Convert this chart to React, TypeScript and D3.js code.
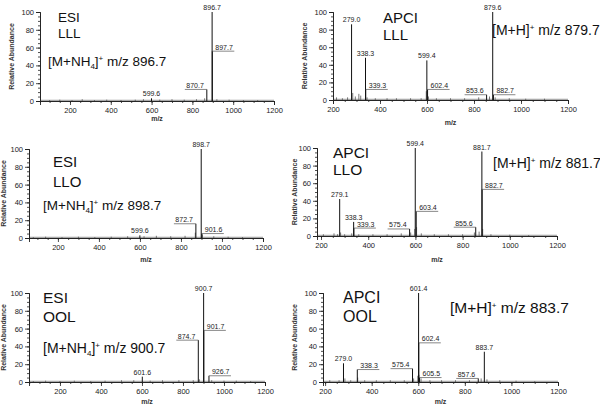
import React, { useEffect, useRef } from 'react';
import * as d3 from 'd3';

const W = 600;
const H = 409;

// labelled peaks: [m/z, relative abundance]
const esiLLL = [[896.7, 100], [897.7, 56], [870.7, 13], [599.6, 3]];
const apciLLL = [[279.0, 86], [338.3, 48], [339.3, 12], [599.4, 45], [602.4, 12], [853.6, 6], [879.6, 100], [882.7, 6]];
const esiLLO = [[898.7, 100], [872.7, 16], [901.6, 5], [599.6, 3]];
const apciLLO = [[279.1, 42], [338.3, 16], [339.3, 9], [575.4, 8], [599.4, 100], [603.4, 28], [855.6, 10], [881.7, 96], [882.7, 53]];
const esiOOL = [[900.7, 100], [874.7, 47], [901.7, 58], [926.7, 7], [601.6, 6]];
const apciOOL = [[601.4, 100], [602.4, 44], [279.0, 21], [338.3, 14], [575.4, 15], [605.5, 5], [857.6, 4], [883.7, 34]];

// small unlabelled peaks along the baseline
const esiLLLMinor = [[100, 1], [150, 1.5], [210, 1], [260, 2], [320, 1], [380, 1.5], [450, 1], [520, 1.5], [560, 2], [640, 1.5], [700, 2], [760, 1.5], [820, 2], [860, 3], [920, 2], [980, 1.5], [1050, 1], [1120, 1]];
const apciLLLMinor = [[215, 3], [240, 2], [262, 3], [284, 8], [295, 4], [310, 7], [318, 5], [345, 3], [380, 2], [430, 2], [470, 2], [530, 2], [575, 2], [597, 10], [606, 4], [640, 2], [700, 2], [760, 2], [820, 3], [866, 4], [890, 3], [950, 2], [1020, 1.5], [1100, 1.5]];
const esiLLOMinor = [[80, 1], [140, 1.5], [220, 1], [300, 1.5], [380, 1], [460, 1.5], [540, 2], [620, 2], [680, 2.5], [750, 2], [820, 2.5], [870, 6], [905, 4], [960, 2], [1030, 1.5], [1100, 1]];
const apciLLOMinor = [[210, 2], [255, 3], [270, 2], [283, 4], [300, 2], [330, 3], [360, 2], [420, 2], [480, 2], [540, 3], [580, 4], [597, 8], [605, 10], [625, 3], [680, 2], [740, 2], [800, 2], [850, 4], [870, 5], [885, 8], [920, 2], [1000, 1.5], [1080, 1]];
const esiOOLMinor = [[70, 1], [130, 1.5], [200, 1], [270, 1.5], [350, 1], [420, 1.5], [500, 2], [560, 2], [640, 1.5], [700, 2], [780, 2], [850, 2], [880, 3], [940, 2], [1000, 1.5], [1060, 1.5], [1130, 1]];
const apciOOLMinor = [[220, 2], [260, 2], [285, 4], [310, 2], [340, 5], [370, 2], [420, 2], [480, 2], [540, 2], [580, 4], [598, 7], [603, 8], [612, 4], [650, 2], [700, 2], [760, 2], [820, 2], [870, 4], [895, 3], [950, 2], [1020, 1.5], [1100, 1]];

const xTicks = [200, 400, 600, 800, 1000, 1200];
const yTicks = [0, 20, 40, 60, 80, 100];

// panel layout (pixel positions) and label placement: c = above, r / l = leader to the side
const panels = [
  { peaks: esiLLL, minor: esiLLLMinor, sides: 'crlc', method: 'ESI', lipid: 'LLL', adduct: 'NH4', ionMz: '896.7',
    dom: [53, 1200], rx: [40, 274], ry: [101, 12], yLabX: 14, mY: 121,
    meth: [58, 22, 38], ion: [48, 66], big: 13.5, ionSize: 13.5 },
  { peaks: apciLLL, minor: apciLLLMinor, sides: 'ccrcrlcr', method: 'APCI', lipid: 'LLL', adduct: 'H', ionMz: '879.7',
    dom: [200, 1200], rx: [333, 568], ry: [100, 12], yLabX: 307, mY: 125,
    meth: [383, 23, 40], ion: [492, 35], big: 15, ionSize: 14 },
  { peaks: esiLLO, minor: esiLLOMinor, sides: 'clrc', method: 'ESI', lipid: 'LLO', adduct: 'NH4', ionMz: '898.7',
    dom: [59, 1200], rx: [29, 263], ry: [238, 149], yLabX: 6, mY: 262,
    meth: [53, 167, 187], ion: [43, 210], big: 15, ionSize: 13.5 },
  { peaks: apciLLO, minor: apciLLOMinor, sides: 'ccrlcrlcr', method: 'APCI', lipid: 'LLO', adduct: 'H', ionMz: '881.7',
    dom: [183, 1200], rx: [317, 557], ry: [236, 148], yLabX: 297, mY: 262,
    meth: [333, 158, 175], ion: [493, 168], big: 15.5, ionSize: 14 },
  { peaks: esiOOL, minor: esiOOLMinor, sides: 'clrrc', method: 'ESI', lipid: 'OOL', adduct: 'NH4', ionMz: '900.7',
    dom: [49, 1200], rx: [29, 265], ry: [382, 293], yLabX: 6, mY: 404,
    meth: [43, 303, 322], ion: [43, 353], big: 15.5, ionSize: 14 },
  { peaks: apciOOL, minor: apciOOLMinor, sides: 'crcrlrlc', method: 'APCI', lipid: 'OOL', adduct: 'H', ionMz: '883.7',
    dom: [191, 1200], rx: [323, 558], ry: [382, 293], yLabX: 297, mY: 404,
    meth: [343, 303, 322], ion: [450, 313], big: 16, ionSize: 15.5 },
];

const FONT = 'Arial, "Liberation Sans", sans-serif';

export default function App() {
  const svgRef = useRef(null);

  useEffect(() => {
    const svg = d3.select(svgRef.current);
    svg.selectAll('*').remove();
    svg.append('rect').attr('width', W).attr('height', H).attr('fill', '#fff');

    panels.forEach((p) => {
      const x = d3.scaleLinear().domain(p.dom).range(p.rx);
      const y = d3.scaleLinear().domain([0, 100]).range(p.ry);
      const g = svg.append('g');

      // baseline
      g.append('line')
        .attr('x1', p.rx[0]).attr('x2', p.rx[1])
        .attr('y1', y(0.8)).attr('y2', y(0.8))
        .attr('stroke', '#777').attr('stroke-width', 0.8);

      // minor peaks
      g.selectAll('.mn').data(p.minor).join('line')
        .attr('x1', (d) => x(d[0])).attr('x2', (d) => x(d[0]))
        .attr('y1', y(0)).attr('y2', (d) => y(d[1]))
        .attr('stroke', '#555').attr('stroke-width', 0.8);

      // labelled peaks
      g.selectAll('.pk').data(p.peaks).join('line')
        .attr('x1', (d) => x(d[0])).attr('x2', (d) => x(d[0]))
        .attr('y1', y(0)).attr('y2', (d) => y(d[1]))
        .attr('stroke', '#111').attr('stroke-width', 1);

      // peak labels
      p.peaks.forEach((d, i) => {
        const side = p.sides[i];
        const px = x(d[0]);
        const py = y(d[1]);
        const txt = d[0].toFixed(1);
        const tw = 19;
        if (side === 'c') {
          g.append('text').attr('x', px).attr('y', py - 2)
            .attr('text-anchor', 'middle').text(txt);
        } else if (side === 'r') {
          g.append('line').attr('x1', px).attr('x2', px + 3 + tw)
            .attr('y1', py).attr('y2', py).attr('stroke', '#555').attr('stroke-width', 0.7);
          g.append('text').attr('x', px + 3).attr('y', py - 1.5).text(txt);
        } else {
          g.append('line').attr('x1', px - 3 - tw).attr('x2', px)
            .attr('y1', py).attr('y2', py).attr('stroke', '#555').attr('stroke-width', 0.7);
          g.append('text').attr('x', px - 3).attr('y', py - 1.5)
            .attr('text-anchor', 'end').text(txt);
        }
      });
      g.selectAll('text').attr('font-family', FONT).attr('font-size', 7).attr('fill', '#222');

      // axes
      const xMinor = d3.range(Math.ceil(p.dom[0] / 50) * 50, 1201, 50);
      g.append('g').attr('transform', `translate(0,${p.ry[0]})`)
        .call(d3.axisBottom(x).tickValues(xMinor).tickSize(2).tickFormat(() => ''));
      g.append('g').attr('transform', `translate(0,${p.ry[0]})`)
        .call(d3.axisBottom(x).tickValues(xTicks).tickSize(4).tickPadding(3).tickFormat(d3.format('d')));
      g.append('g').attr('transform', `translate(${p.rx[0]},0)`)
        .call(d3.axisLeft(y).tickValues(d3.range(0, 101, 5)).tickSize(2).tickFormat(() => ''));
      g.append('g').attr('transform', `translate(${p.rx[0]},0)`)
        .call(d3.axisLeft(y).tickValues(yTicks).tickSize(4).tickPadding(2).tickFormat(d3.format('d')));
      g.selectAll('.domain').attr('stroke', '#222').attr('stroke-width', 0.9);
      g.selectAll('.tick line').attr('stroke', '#222').attr('stroke-width', 0.8);
      g.selectAll('.tick text').attr('font-family', FONT).attr('font-size', 7.5).attr('fill', '#222');

      // axis titles
      g.append('text')
        .attr('x', (p.rx[0] + p.rx[1]) / 2).attr('y', p.mY)
        .attr('text-anchor', 'middle')
        .attr('font-family', FONT).attr('font-size', 7).attr('font-weight', 'bold').attr('fill', '#333')
        .text('m/z');
      g.append('text')
        .attr('transform', `translate(${p.yLabX},${(p.ry[0] + p.ry[1]) / 2}) rotate(-90)`)
        .attr('text-anchor', 'middle')
        .attr('font-family', FONT).attr('font-size', 7).attr('font-weight', 'bold').attr('fill', '#333')
        .text('Relative Abundance');

      // method / compound annotation
      const big = g.append('g').attr('font-family', FONT).attr('font-size', p.big).attr('fill', '#111');
      big.append('text').attr('x', p.meth[0]).attr('y', p.meth[1]).text(p.method);
      big.append('text').attr('x', p.meth[0]).attr('y', p.meth[2]).text(p.lipid);

      const ion = g.append('text').attr('x', p.ion[0]).attr('y', p.ion[1])
        .attr('font-family', FONT).attr('font-size', p.ionSize).attr('fill', '#111');
      if (p.adduct === 'NH4') {
        ion.append('tspan').text('[M+NH');
        ion.append('tspan').attr('font-size', 8).attr('dy', 3).text('4');
        ion.append('tspan').attr('dy', -3).text(']');
      } else {
        ion.append('tspan').text('[M+H]');
      }
      ion.append('tspan').attr('font-size', 8).attr('dy', -5).text('+');
      ion.append('tspan').attr('dy', 5).text(` m/z ${p.ionMz}`);
    });
  }, []);

  return (
    <svg
      ref={svgRef}
      width={W}
      height={H}
      style={{ position: 'absolute', left: 0, top: 0, display: 'block' }}
    />
  );
}
